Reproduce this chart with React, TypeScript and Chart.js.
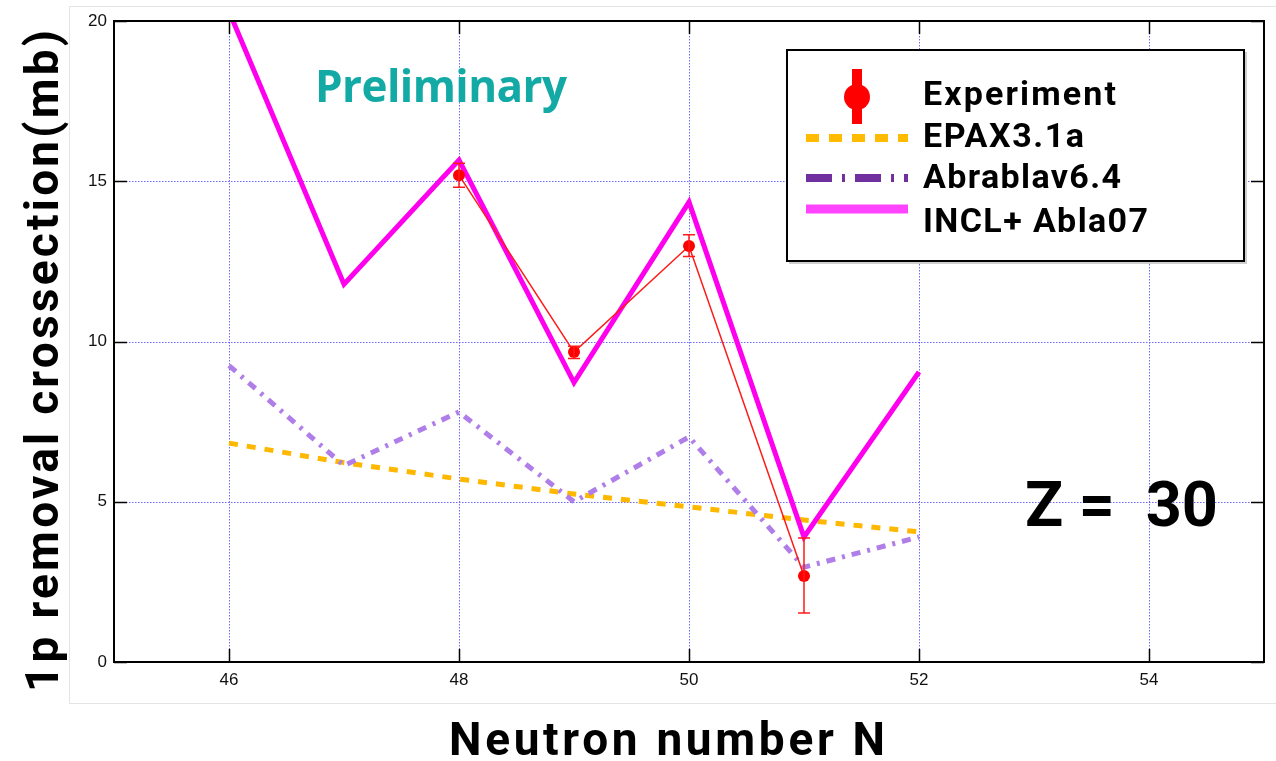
import React, { useEffect, useRef } from "react";
import { Chart, registerables } from "chart.js";

Chart.register(...registerables);

// ---- data ----
const nValues = [46, 47, 48, 49, 50, 51, 52];
const epaxValues = [6.83, 6.22, 5.71, 5.24, 4.84, 4.43, 4.06];
const abrablavValues = [9.25, 6.13, 7.8, 5.0, 7.02, 2.96, 3.9];
const inclValues = [20.3, 11.79, 15.66, 8.72, 14.35, 3.9, 9.05];
const expN = [48, 49, 50, 51];
const expValues = [15.19, 9.67, 12.98, 2.68];
const expErrLow = [0.38, 0.2, 0.33, 1.15];
const expErrHigh = [0.37, 0.18, 0.35, 1.19];
const xTickValues = [46, 48, 50, 52, 54];
const yTickValues = [0, 5, 10, 15, 20];
const legendLabels = ["Experiment", "EPAX3.1a", "Abrablav6.4", "INCL+ Abla07"];
const yTitle = "1p removal crossection(mb)";
const xTitle = "Neutron number N";

const toXY = (xs: number[], ys: number[]) => xs.map((x, i) => ({ x, y: ys[i] }));

function fitText(ctx: CanvasRenderingContext2D, text: string, x: number, y: number, font: string, width: number) {
  ctx.font = font;
  (ctx as any).letterSpacing = "0px";
  const w = ctx.measureText(text).width;
  let ls = (width - w) / Math.max(1, text.length - 1);
  ls = Math.max(-4, Math.min(8, ls));
  (ctx as any).letterSpacing = ls + "px";
  ctx.fillText(text, x, y);
  (ctx as any).letterSpacing = "0px";
}

const decor = {
  id: "decor",
  beforeDraw(chart: any) {
    const ctx = chart.ctx as CanvasRenderingContext2D;
    ctx.save();
    ctx.fillStyle = "#ffffff";
    ctx.fillRect(0, 0, chart.width, chart.height);
    ctx.strokeStyle = "#e4e4e4";
    ctx.lineWidth = 1;
    ctx.strokeRect(69.5, 6.5, 1300, 697);
    ctx.restore();
  },
  beforeDatasetsDraw(chart: any) {
    const ctx = chart.ctx as CanvasRenderingContext2D;
    const a = chart.chartArea;
    const xs = chart.scales.x;
    const ys = chart.scales.y;
    ctx.save();
    ctx.strokeStyle = "rgba(80,80,255,0.85)";
    ctx.lineWidth = 1;
    ctx.setLineDash([1.5, 1.5]);
    xTickValues.forEach((v) => {
      const px = Math.round(xs.getPixelForValue(v)) + 0.5;
      ctx.beginPath();
      ctx.moveTo(px, a.top);
      ctx.lineTo(px, a.bottom);
      ctx.stroke();
    });
    yTickValues.forEach((v) => {
      if (v === 0 || v === 20) return;
      const py = Math.round(ys.getPixelForValue(v)) + 0.5;
      ctx.beginPath();
      ctx.moveTo(a.left, py);
      ctx.lineTo(a.right, py);
      ctx.stroke();
    });
    ctx.restore();
  },
  afterDatasetsDraw(chart: any) {
    const ctx = chart.ctx as CanvasRenderingContext2D;
    const a = chart.chartArea;
    const xs = chart.scales.x;
    const ys = chart.scales.y;
    ctx.save();
    // error bars
    ctx.strokeStyle = "#ff1a1a";
    ctx.lineWidth = 1.5;
    expN.forEach((n, i) => {
      const px = xs.getPixelForValue(n);
      const yHi = ys.getPixelForValue(expValues[i] + expErrHigh[i]);
      const yLo = ys.getPixelForValue(expValues[i] - expErrLow[i]);
      ctx.beginPath();
      ctx.moveTo(px, yHi);
      ctx.lineTo(px, yLo);
      ctx.moveTo(px - 6, yHi);
      ctx.lineTo(px + 6, yHi);
      ctx.moveTo(px - 6, yLo);
      ctx.lineTo(px + 6, yLo);
      ctx.stroke();
    });
    // frame
    ctx.strokeStyle = "#000";
    ctx.lineWidth = 2;
    ctx.strokeRect(a.left, a.top, a.right - a.left, a.bottom - a.top);
    // inward ticks
    ctx.lineWidth = 1.5;
    xTickValues.forEach((v) => {
      const px = Math.round(xs.getPixelForValue(v)) + 0.5;
      ctx.beginPath();
      ctx.moveTo(px, a.bottom);
      ctx.lineTo(px, a.bottom - 13);
      ctx.moveTo(px, a.top);
      ctx.lineTo(px, a.top + 13);
      ctx.stroke();
    });
    yTickValues.forEach((v) => {
      const py = Math.round(ys.getPixelForValue(v)) + 0.5;
      ctx.beginPath();
      ctx.moveTo(a.left, py);
      ctx.lineTo(a.left + 13, py);
      ctx.moveTo(a.right, py);
      ctx.lineTo(a.right - 13, py);
      ctx.stroke();
    });
    ctx.restore();
  },
  afterDraw(chart: any) {
    const ctx = chart.ctx as CanvasRenderingContext2D;
    ctx.save();
    ctx.textAlign = "left";
    ctx.textBaseline = "alphabetic";
    ctx.fillStyle = "#000";
    // axis titles
    fitText(ctx, xTitle, 449, 755, "bold 46px Roboto", 436);
    ctx.save();
    ctx.translate(58, 692);
    ctx.rotate(-Math.PI / 2);
    fitText(ctx, yTitle, 0, 0, "bold 46px Roboto", 662);
    ctx.restore();
    // annotations
    ctx.fillStyle = "#13aaa6";
    fitText(ctx, "Preliminary", 315, 102, "bold 44px 'Open Sans'", 252);
    ctx.fillStyle = "#000";
    fitText(ctx, "Z =  30", 1025, 526, "bold 63px Roboto", 193);

    // legend box
    ctx.fillStyle = "#cfcfcf";
    ctx.fillRect(789, 52, 458, 212);
    ctx.fillStyle = "#fff";
    ctx.fillRect(787, 50, 457, 211);
    ctx.strokeStyle = "#000";
    ctx.lineWidth = 2;
    ctx.strokeRect(787, 50, 457, 211);

    // legend symbols
    ctx.fillStyle = "#ff0000";
    ctx.fillRect(852, 69, 10, 55);
    ctx.beginPath();
    ctx.arc(857, 97, 13, 0, Math.PI * 2);
    ctx.fill();

    ctx.lineCap = "butt";
    ctx.strokeStyle = "#ffbb00";
    ctx.lineWidth = 8;
    ctx.setLineDash([13, 10]);
    ctx.beginPath();
    ctx.moveTo(806, 138);
    ctx.lineTo(908, 138);
    ctx.stroke();

    ctx.strokeStyle = "#7030a0";
    ctx.setLineDash([26, 10, 3, 10]);
    ctx.beginPath();
    ctx.moveTo(806, 178);
    ctx.lineTo(908, 178);
    ctx.stroke();

    ctx.strokeStyle = "#ff44ff";
    ctx.lineWidth = 9;
    ctx.setLineDash([]);
    ctx.beginPath();
    ctx.moveTo(806, 209);
    ctx.lineTo(908, 209);
    ctx.stroke();

    ctx.fillStyle = "#000";
    const baselines = [105, 147, 188, 232];
    const widths = [193, 161, 198, 225];
    legendLabels.forEach((t, i) => {
      fitText(ctx, t, 923, baselines[i], "bold 34px Roboto", widths[i]);
    });
    ctx.restore();
  },
};

export default function App() {
  const ref = useRef<HTMLCanvasElement | null>(null);
  useEffect(() => {
    if (!ref.current) return;
    const chart = new Chart(ref.current, {
      type: "line",
      data: {
        datasets: [
          {
            label: legendLabels[0],
            data: toXY(expN, expValues),
            borderColor: "#ff1a1a",
            backgroundColor: "#ff0000",
            borderWidth: 1.5,
            pointRadius: 6,
            pointBackgroundColor: "#ff0000",
            pointBorderWidth: 0,
            order: 0,
            clip: 0,
          },
          {
            label: legendLabels[1],
            data: toXY(nValues, epaxValues),
            borderColor: "#ffb800",
            borderWidth: 5,
            borderDash: [9, 9],
            pointRadius: 0,
            order: 3,
            clip: 0,
          },
          {
            label: legendLabels[2],
            data: toXY(nValues, abrablavValues),
            borderColor: "#b07ee8",
            borderWidth: 5,
            borderDash: [9, 7, 3, 7],
            pointRadius: 0,
            order: 2,
            clip: 0,
          },
          {
            label: legendLabels[3],
            data: toXY(nValues, inclValues),
            borderColor: "#ff00ee",
            borderWidth: 5,
            pointRadius: 0,
            order: 1,
            clip: 0,
          },
        ],
      } as any,
      options: {
        animation: false,
        responsive: false,
        layout: { padding: { left: 0, right: 12, top: 21, bottom: 0 } },
        plugins: { legend: { display: false }, tooltip: { enabled: false } },
        scales: {
          x: {
            type: "linear",
            min: 45,
            max: 55,
            grid: { display: false, drawTicks: false },
            border: { display: false },
            ticks: { font: { family: "'Liberation Sans'", size: 17 }, color: "#111", padding: 8, maxRotation: 0 },
            afterBuildTicks: (s: any) => {
              s.ticks = xTickValues.map((v) => ({ value: v }));
            },
            afterFit: (s: any) => {
              s.height = 99;
            },
          },
          y: {
            type: "linear",
            min: 0,
            max: 20,
            grid: { display: false, drawTicks: false },
            border: { display: false },
            ticks: { font: { family: "'Liberation Sans'", size: 17 }, color: "#111", padding: 7 },
            afterBuildTicks: (s: any) => {
              s.ticks = yTickValues.map((v) => ({ value: v }));
            },
            afterFit: (s: any) => {
              s.width = 114;
            },
          },
        },
      } as any,
      plugins: [decor],
    });
    return () => chart.destroy();
  }, []);
  return (
    <div style={{ position: "fixed", left: 0, top: 0, width: 1276, height: 761, background: "#fff" }}>
      <canvas ref={ref} width={1276} height={761} />
    </div>
  );
}
